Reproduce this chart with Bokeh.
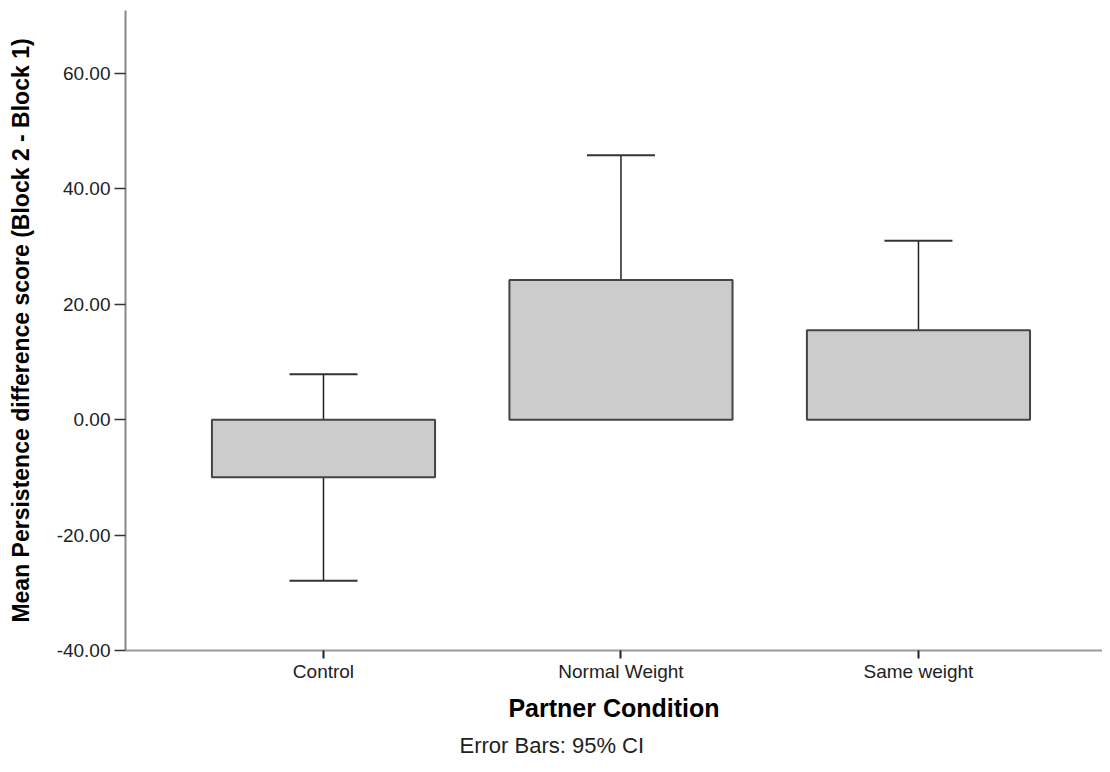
from bokeh.plotting import figure
from bokeh.models import ColumnDataSource, FixedTicker, PrintfTickFormatter, Range1d, Title, Whisker
from bokeh.embed import file_html
from bokeh.resources import INLINE

categories = ["Control", "Normal Weight", "Same weight"]
means = [-10.0, 24.2, 15.5]
ci_lower = [-27.9, 2.7, 0.2]
ci_upper = [7.85, 45.8, 31.0]
y_ticks = [-40, -20, 0, 20, 40, 60]

xs = list(range(len(categories)))
src = ColumnDataSource(dict(x=xs, top=means, lower=ci_lower, upper=ci_upper))

FONT = "Liberation Sans"

p = figure(width=1102, height=764, output_backend="svg", toolbar_location=None,
           x_range=Range1d(-0.6655, 2.6186), y_range=Range1d(-40, 70.9),
           min_border_left=125, min_border_right=0, min_border_top=10, min_border_bottom=114)
p.outline_line_color = None
p.background_fill_color = "white"
p.xgrid.visible = False
p.ygrid.visible = False

p.vbar(x="x", top="top", bottom=0, width=0.75, source=src,
       fill_color="#cccccc", line_color="#444444", line_width=2)

w = Whisker(base="x", lower="lower", upper="upper", source=src, dimension="height",
            line_color="#222222", line_width=1.5)
w.upper_head.size = 68
w.lower_head.size = 68
w.upper_head.line_color = "#333333"
w.lower_head.line_color = "#333333"
w.upper_head.line_width = 2
w.lower_head.line_width = 2
p.add_layout(w)

# y axis
p.yaxis.ticker = FixedTicker(ticks=y_ticks)
p.yaxis.formatter = PrintfTickFormatter(format="%.2f")
p.yaxis.minor_tick_line_color = None
p.yaxis.major_tick_out = 11
p.yaxis.major_tick_in = 0
p.yaxis.major_tick_line_color = "#333333"
p.yaxis.major_tick_line_width = 1.5
p.yaxis.axis_line_color = "#888888"
p.yaxis.axis_line_width = 2
p.yaxis.major_label_text_font = FONT
p.yaxis.major_label_text_font_size = "19px"
p.yaxis.major_label_text_color = "#222222"
p.yaxis.major_label_standoff = 4
p.yaxis.axis_label = "Mean Persistence difference score (Block 2 - Block 1)"
p.yaxis.axis_label_text_font = FONT
p.yaxis.axis_label_text_font_size = "23px"
p.yaxis.axis_label_text_font_style = "bold"
p.yaxis.axis_label_text_color = "black"
p.yaxis.axis_label_standoff = 20

# x axis
p.xaxis.ticker = FixedTicker(ticks=xs)
p.xaxis.major_label_overrides = {i: c for i, c in enumerate(categories)}
p.xaxis.minor_tick_line_color = None
p.xaxis.major_tick_out = 8
p.xaxis.major_tick_in = 0
p.xaxis.major_tick_line_color = "#222222"
p.xaxis.major_tick_line_width = 2
p.xaxis.axis_line_color = "#999999"
p.xaxis.axis_line_width = 2
p.xaxis.major_label_text_font = FONT
p.xaxis.major_label_text_font_size = "19px"
p.xaxis.major_label_text_color = "#222222"
p.xaxis.major_label_standoff = 2
p.xaxis.axis_label = "Partner Condition"
p.xaxis.axis_label_text_font = FONT
p.xaxis.axis_label_text_font_size = "25px"
p.xaxis.axis_label_text_font_style = "bold"
p.xaxis.axis_label_text_color = "black"
p.xaxis.axis_label_standoff = 9

note = Title(text="Error Bars: 95% CI", align="left", offset=334, text_font=FONT,
             text_font_size="22px", text_font_style="normal", text_color="#222222",
             standoff=13)
p.add_layout(note, "below")

open("out.html", "w").write(file_html(p, INLINE))
